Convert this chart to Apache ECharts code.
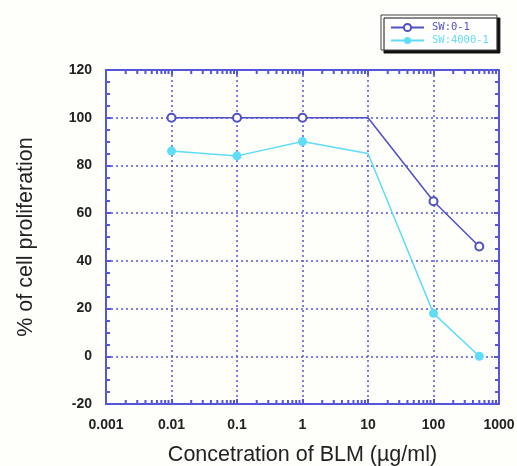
<!DOCTYPE html>
<html>
<head>
<meta charset="utf-8">
<script src="https://cdn.jsdelivr.net/npm/echarts@6/dist/echarts.min.js"></script>
<style>
  html, body { margin: 0; padding: 0; background: #fefefb; }
  #chart { width: 517px; height: 466px; }
</style>
</head>
<body>
<div id="chart"></div>
<script>
// concentrations (ug/ml) and % of cell proliferation
const doses = [0.01, 0.1, 1, 10, 100, 500];
const sw01 = [100, 100, 100, 100, 65, 46];
const sw4000 = [86, 84, 90, 85, 18, 0];
const seriesNames = ['SW:0-1', 'SW:4000-1'];
const xTickLabels = ['0.001', '0.01', '0.1', '1', '10', '100', '1000'];
const yTicks = [-20, 0, 20, 40, 60, 80, 100, 120];

const frameColor = '#5656dc';
const darkBlue = '#5050c4';
const cyan = '#5fdcf6';

// the point at 10 has no marker in the original
function toData(vals) {
  return doses.map((d, i) => d === 10 ? { value: [d, vals[i]], symbol: 'none' } : [d, vals[i]]);
}

const chart = echarts.init(document.getElementById('chart'));

const logAxisBase = {
  type: 'log',
  logBase: 10,
  min: 0.001,
  max: 1000,
  axisLine: { show: true, onZero: false, lineStyle: { color: frameColor, width: 2 } },
  axisTick: { show: true, inside: true, length: 5, lineStyle: { color: frameColor, width: 2 } },
  minorTick: { show: false },
  splitLine: { show: false }
};
const valAxisBase = {
  type: 'value',
  min: yTicks[0],
  max: yTicks[yTicks.length - 1],
  interval: 20,
  axisLine: { show: true, onZero: false, lineStyle: { color: frameColor, width: 2 } },
  axisTick: { show: true, inside: true, length: 5, lineStyle: { color: frameColor, width: 2 } },
  minorTick: { show: true, splitNumber: 4, length: 4, lineStyle: { color: frameColor, width: 2 } },
  splitLine: { show: false }
};

chart.setOption({
  backgroundColor: '#fefefb',
  animation: false,
  grid: { left: 106, right: 18, top: 70, bottom: 62, outerBoundsMode: 'none', containLabel: false },
  legend: {
    orient: 'vertical',
    left: 381,
    top: 15,
    itemWidth: 33,
    itemHeight: 9,
    itemGap: 2,
    padding: [7, 8, 4, 9],
    backgroundColor: '#ffffff',
    borderColor: '#444',
    borderWidth: 1,
    shadowColor: '#111',
    shadowOffsetX: 3,
    shadowOffsetY: 3,
    shadowBlur: 0,
    textStyle: { fontFamily: 'DejaVu Sans Mono', fontSize: 10.5, lineHeight: 10, padding: [0, 0, 0, 3] },
    data: [
      { name: seriesNames[0], textStyle: { color: darkBlue } },
      { name: seriesNames[1], textStyle: { color: cyan } }
    ]
  },
  xAxis: [
    Object.assign({}, logAxisBase, {
      position: 'bottom',
      name: 'Concetration of BLM (\u00b5g/ml)',
      nameLocation: 'middle',
      nameGap: 40,
      nameTextStyle: { fontFamily: 'Liberation Sans', fontSize: 21.5, color: '#222' },
      splitLine: { show: true, lineStyle: { color: frameColor, type: [2, 3], width: 1.5 } },
      axisLabel: {
        margin: 14,
        fontFamily: 'Liberation Sans',
        fontWeight: 'bold',
        fontSize: 14,
        color: '#222',
        showMaxLabel: true,
        formatter: (v, i) => xTickLabels[i]
      }
    }),
    Object.assign({}, logAxisBase, { position: 'top', axisLabel: { show: false } })
  ],
  yAxis: [
    Object.assign({}, valAxisBase, {
      position: 'left',
      name: '% of cell proliferation',
      nameLocation: 'middle',
      nameGap: 69,
      nameTextStyle: { fontFamily: 'Liberation Sans', fontSize: 21.5, color: '#222' },
      splitLine: { show: true, lineStyle: { color: frameColor, type: [2, 3], width: 1.5 } },
      axisLabel: {
        margin: 14,
        fontFamily: 'Liberation Sans',
        fontWeight: 'bold',
        fontSize: 14,
        color: '#222'
      }
    }),
    Object.assign({}, valAxisBase, { position: 'right', axisLabel: { show: false } })
  ],
  series: [
    {
      name: seriesNames[0],
      type: 'line',
      data: toData(sw01),
      symbol: 'circle',
      symbolSize: 8,
      showAllSymbol: true,
      lineStyle: { color: darkBlue, width: 1.5 },
      itemStyle: { color: '#ffffff', borderColor: darkBlue, borderWidth: 2 },
      z: 3
    },
    {
      name: seriesNames[1],
      type: 'line',
      data: toData(sw4000),
      symbol: 'circle',
      symbolSize: 9,
      showAllSymbol: true,
      lineStyle: { color: cyan, width: 1.5 },
      itemStyle: { color: cyan, borderColor: cyan, borderWidth: 0 },
      z: 3
    }
  ]
});

// log minor ticks (2..9 of each decade) on bottom and top edges, placed via the axis scale
const minorTicks = [];
const yTop = chart.convertToPixel({ yAxisIndex: 0 }, yTicks[yTicks.length - 1]);
const yBot = chart.convertToPixel({ yAxisIndex: 0 }, yTicks[0]);
for (let e = -3; e < 3; e++) {
  for (let k = 2; k <= 9; k++) {
    const x = chart.convertToPixel({ xAxisIndex: 0 }, k * Math.pow(10, e));
    minorTicks.push({ type: 'line', shape: { x1: x, y1: yBot, x2: x, y2: yBot - 4 }, style: { stroke: frameColor, lineWidth: 2 } });
    minorTicks.push({ type: 'line', shape: { x1: x, y1: yTop, x2: x, y2: yTop + 4 }, style: { stroke: frameColor, lineWidth: 2 } });
  }
}
chart.setOption({ graphic: minorTicks });
</script>
</body>
</html>
